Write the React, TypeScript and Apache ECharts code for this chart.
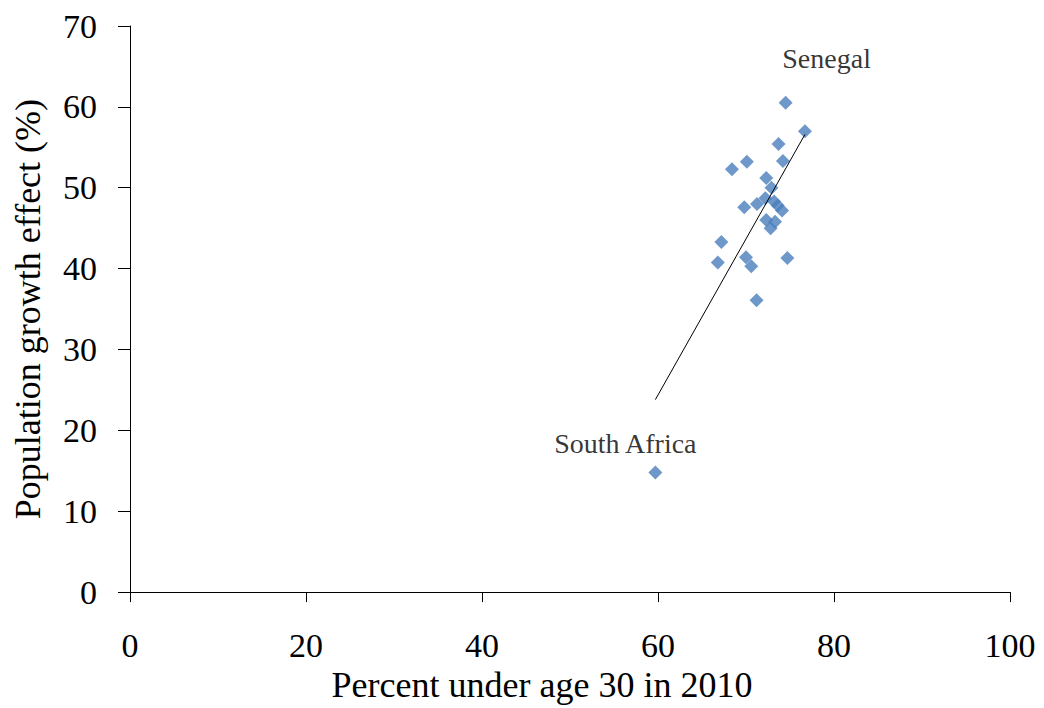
import React, { useEffect, useRef } from "react";
import * as echarts from "echarts";

const percentUnder30 = [74.5, 76.7, 73.7, 70.1, 74.2, 68.4, 72.3, 72.9, 72.2, 71.25, 73.2, 73.6, 74.1, 69.8, 72.3, 73.3, 72.8, 67.2, 66.8, 70.0, 70.6, 74.7, 71.2, 59.7];
const growthEffect = [60.5, 57.0, 55.4, 53.2, 53.3, 52.3, 51.2, 50.0, 48.7, 48.0, 48.3, 47.8, 47.2, 47.6, 46.0, 45.8, 45.0, 43.3, 40.75, 41.4, 40.3, 41.3, 36.1, 14.8];
const pointLabels = ["Senegal", "", "", "", "", "", "", "", "", "", "", "", "", "", "", "", "", "", "", "", "", "", "", "South Africa"];
const trendX = [59.7, 76.7];
const trendY = [23.8, 56.6];
const xTicks = [0, 20, 40, 60, 80, 100];
const yTicks = [0, 10, 20, 30, 40, 50, 60, 70];

const FONT = '"Liberation Serif", "Times New Roman", serif';

export default function App() {
  const ref = useRef<HTMLDivElement>(null);
  useEffect(() => {
    if (!ref.current) return;
    const chart = echarts.init(ref.current, undefined, { renderer: "svg" });
    const labelOffsets: Record<string, number[]> = {
      "Senegal": [41, -44],
      "South Africa": [-30, -29],
    };
    const scatterData = percentUnder30.map((x, i) => {
      const name = pointLabels[i];
      const item: any = { value: [x, growthEffect[i]] };
      if (name) {
        item.label = {
          show: true,
          formatter: name,
          position: "inside",
          offset: labelOffsets[name],
          color: "#000",
          fontFamily: FONT,
          fontSize: 28,
        };
      }
      return item;
    });
    chart.setOption({
      animation: false,
      backgroundColor: "#fff",
      grid: { left: 130, right: 34, top: 26, bottom: 109, containLabel: false },
      xAxis: {
        type: "value",
        min: xTicks[0],
        max: xTicks[xTicks.length - 1],
        interval: 20,
        name: "Percent under age 30 in 2010",
        nameLocation: "middle",
        nameGap: 72,
        nameTextStyle: { color: "#000", fontFamily: FONT, fontSize: 36, padding: [0, 56, 0, 0] },
        axisLine: { show: true, onZero: false, lineStyle: { color: "#000", width: 1 } },
        axisTick: { show: true, length: 10, lineStyle: { color: "#000" } },
        axisLabel: { color: "#000", fontFamily: FONT, fontSize: 34, margin: 36 },
        splitLine: { show: false },
      },
      yAxis: {
        type: "value",
        min: yTicks[0],
        max: yTicks[yTicks.length - 1],
        interval: 10,
        name: "Population growth effect (%)",
        nameLocation: "middle",
        nameGap: 84,
        nameTextStyle: { color: "#000", fontFamily: FONT, fontSize: 36 },
        axisLine: { show: true, onZero: false, lineStyle: { color: "#000", width: 1 } },
        axisTick: { show: true, length: 12, lineStyle: { color: "#000" } },
        axisLabel: { color: "#000", fontFamily: FONT, fontSize: 34, margin: 33 },
        splitLine: { show: false },
      },
      series: [
        {
          type: "line",
          data: trendX.map((x, i) => [x, trendY[i]]),
          symbol: "none",
          lineStyle: { color: "#000", width: 1 },
          silent: true,
          z: 3,
        },
        {
          type: "scatter",
          symbol: "diamond",
          symbolSize: 14,
          itemStyle: { color: "#4A7EBB" },
          data: scatterData,
          z: 2,
        },
      ],
    });
    return () => chart.dispose();
  }, []);
  return <div ref={ref} style={{ width: 1044, height: 708, position: "absolute", left: 0, top: 0 }} />;
}
